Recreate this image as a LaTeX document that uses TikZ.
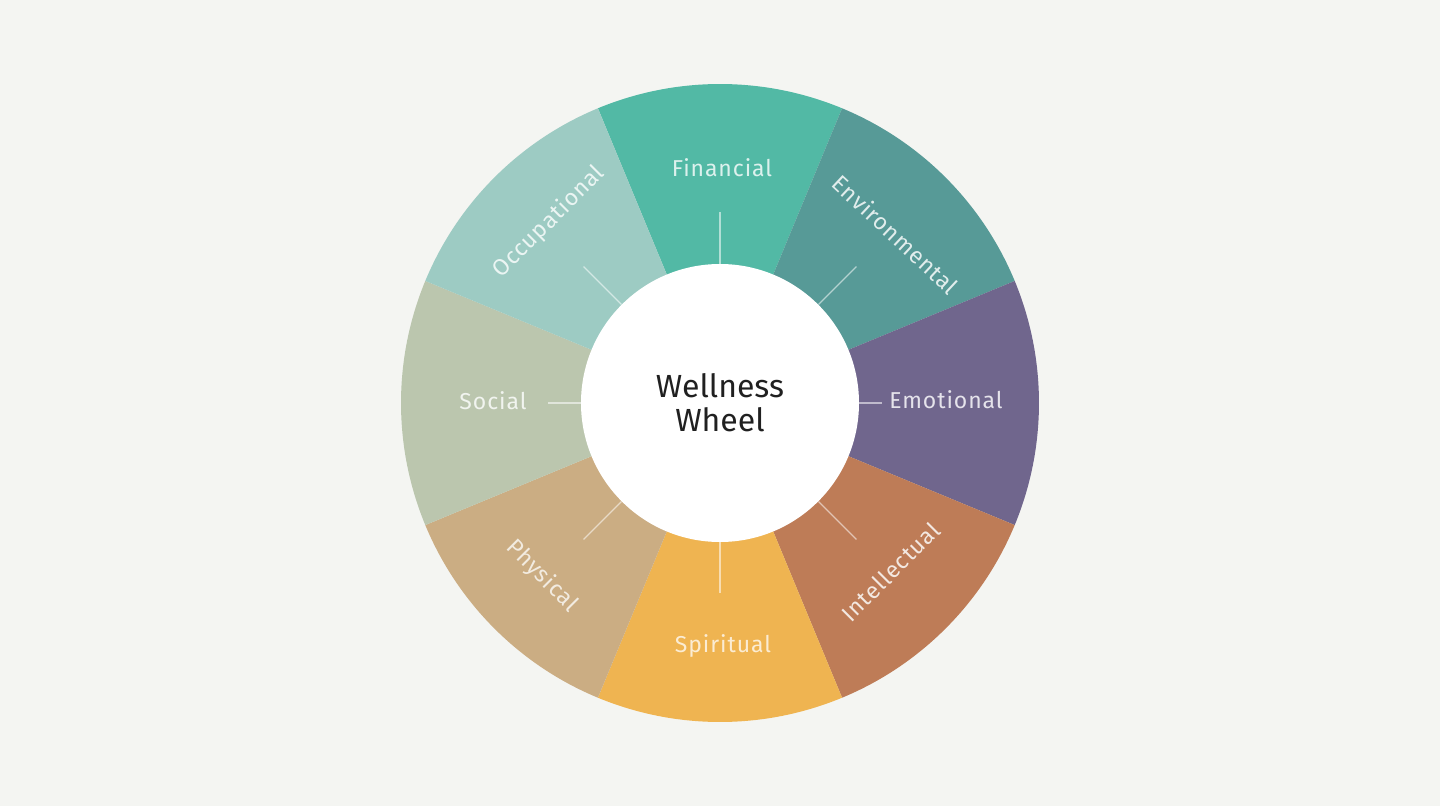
\documentclass[tikz,border=0pt]{standalone}
\usepackage{fontspec}
\setmainfont{Fira Sans}
\newfontfamily\labfont{Fira Sans}[LetterSpace=4]
\newfontfamily\hubfont{Fira Sans}
\definecolor{bgc}{HTML}{F4F5F2}
\definecolor{cFin}{HTML}{52B9A5}
\definecolor{cEnv}{HTML}{579A97}
\definecolor{cEmo}{HTML}{70668D}
\definecolor{cInt}{HTML}{BE7C57}
\definecolor{cSpi}{HTML}{EFB451}
\definecolor{cPhy}{HTML}{CBAD83}
\definecolor{cSoc}{HTML}{BBC6AE}
\definecolor{cOcc}{HTML}{9DCBC3}
\definecolor{hubtext}{HTML}{202020}
\tikzset{
  lab/.style={font=\labfont\fontsize{23}{25}\selectfont, inner sep=0pt, text height=16pt, text depth=0pt, anchor=center},
  tickline/.style={line width=1.1pt},
}
\begin{document}
\begin{tikzpicture}[x=1pt,y=1pt]
\fill[bgc] (-720,-403) rectangle (720,403);
\path[use as bounding box] (-720,-403) rectangle (720,403);
% segments
\foreach \a/\c in {90/cFin,45/cEnv,0/cEmo,-45/cInt,-90/cSpi,-135/cPhy,180/cSoc,135/cOcc}{
  \fill[\c] (0,0) -- (\a-22.5:319) arc[start angle=\a-22.5, end angle=\a+22.5, radius=319] -- cycle;
}
% hub
\node[circle, fill=white, minimum size=278, inner sep=0pt, align=center,
      font=\hubfont\fontsize{32}{34}\selectfont, text=hubtext] (hub) at (0,0) {Wellness\\Wheel};
% tick ends
\coordinate (tFin) at (90:191);
\coordinate (tEnv) at (45:193);
\coordinate (tEmo) at (0:162);
\coordinate (tInt) at (-45:193);
\coordinate (tSpi) at (-90:190);
\coordinate (tPhy) at (-135:193);
\coordinate (tSoc) at (180:172);
\coordinate (tOcc) at (135:193);
\draw[tickline, white!55!cFin] (hub.90) -- (tFin);
\draw[tickline, white!55!cEnv] (hub.45) -- (tEnv);
\draw[tickline, white!55!cEmo] (hub.0) -- (tEmo);
\draw[tickline, white!55!cInt] (hub.-45) -- (tInt);
\draw[tickline, white!55!cSpi] (hub.-90) -- (tSpi);
\draw[tickline, white!55!cPhy] (hub.-135) -- (tPhy);
\draw[tickline, white!55!cSoc] (hub.180) -- (tSoc);
\draw[tickline, white!55!cOcc] (hub.135) -- (tOcc);
% labels
\node[lab, text=white!80!cFin] (lFin) at (2,234) {Financial};
\node[lab, text=white!82!cEnv, rotate=-43] (lEnv) at (175,168) {Environmental};
\node[lab, text=white!82!cEmo] (lEmo) at (226,3) {Emotional};
\node[lab, text=white!82!cInt, rotate=45] (lInt) at (171,-169) {Intellectual};
\node[lab, text=white!75!cSpi] (lSpi) at (3,-241) {Spiritual};
\node[lab, text=white!75!cPhy, rotate=-45] (lPhy) at (-177,-172) {Physical};
\node[lab, text=white!80!cSoc] (lSoc) at (-227,2) {Social};
\node[lab, text=white!80!cOcc, rotate=45] (lOcc) at (-172,182) {Occupational};
\end{tikzpicture}
\end{document}
